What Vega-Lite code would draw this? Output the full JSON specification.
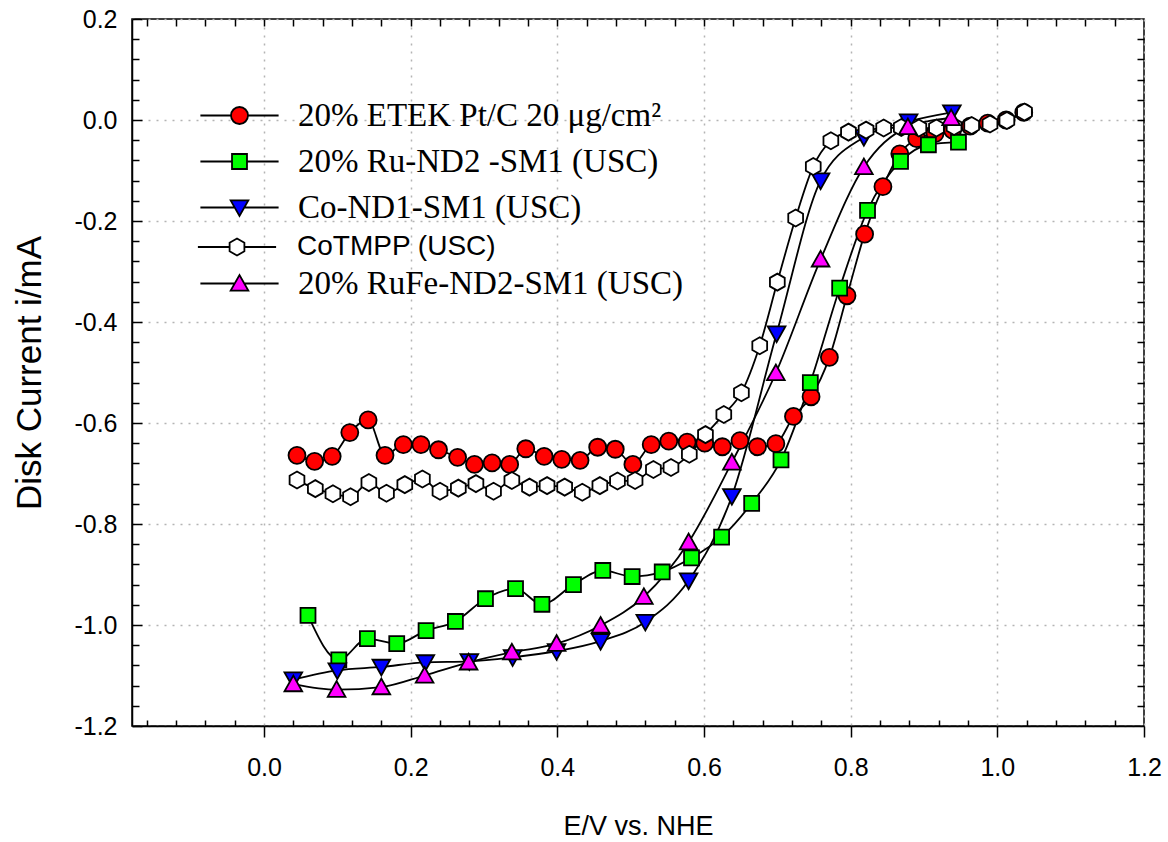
{
  "$schema": "https://vega.github.io/schema/vega-lite/v6.json",
  "width": 1012,
  "height": 707,
  "autosize": {"type": "none"},
  "padding": {"left": 132, "top": 19, "right": 24, "bottom": 116},
  "background": "white",
  "config": {
    "view": {"stroke": "black", "strokeWidth": 1.5},
    "font": "Liberation Sans",
    "axis": {"labelFont": "Liberation Sans", "titleFont": "Liberation Sans", "labelColor": "black", "titleColor": "black", "tickColor": "black", "domainColor": "black"},
    "legend": {"title": null, "orient": "none", "labelColor": "black", "labelLimit": 800, "labelOffset": 42, "symbolSize": 289, "symbolStrokeWidth": 1.8, "symbolStrokeColor": "black"}
  },
  "data": {"values": [
    {"s": "20% ETEK Pt/C 20 μg/cm²", "x": 0.045, "y": -0.664},
    {"s": "20% ETEK Pt/C 20 μg/cm²", "x": 0.069, "y": -0.676},
    {"s": "20% ETEK Pt/C 20 μg/cm²", "x": 0.093, "y": -0.666},
    {"s": "20% ETEK Pt/C 20 μg/cm²", "x": 0.117, "y": -0.619},
    {"s": "20% ETEK Pt/C 20 μg/cm²", "x": 0.142, "y": -0.594},
    {"s": "20% ETEK Pt/C 20 μg/cm²", "x": 0.165, "y": -0.664},
    {"s": "20% ETEK Pt/C 20 μg/cm²", "x": 0.190, "y": -0.643},
    {"s": "20% ETEK Pt/C 20 μg/cm²", "x": 0.214, "y": -0.643},
    {"s": "20% ETEK Pt/C 20 μg/cm²", "x": 0.238, "y": -0.653},
    {"s": "20% ETEK Pt/C 20 μg/cm²", "x": 0.264, "y": -0.668},
    {"s": "20% ETEK Pt/C 20 μg/cm²", "x": 0.287, "y": -0.682},
    {"s": "20% ETEK Pt/C 20 μg/cm²", "x": 0.311, "y": -0.679},
    {"s": "20% ETEK Pt/C 20 μg/cm²", "x": 0.335, "y": -0.682},
    {"s": "20% ETEK Pt/C 20 μg/cm²", "x": 0.357, "y": -0.651},
    {"s": "20% ETEK Pt/C 20 μg/cm²", "x": 0.382, "y": -0.666},
    {"s": "20% ETEK Pt/C 20 μg/cm²", "x": 0.406, "y": -0.672},
    {"s": "20% ETEK Pt/C 20 μg/cm²", "x": 0.431, "y": -0.674},
    {"s": "20% ETEK Pt/C 20 μg/cm²", "x": 0.455, "y": -0.648},
    {"s": "20% ETEK Pt/C 20 μg/cm²", "x": 0.479, "y": -0.652},
    {"s": "20% ETEK Pt/C 20 μg/cm²", "x": 0.503, "y": -0.682},
    {"s": "20% ETEK Pt/C 20 μg/cm²", "x": 0.528, "y": -0.643},
    {"s": "20% ETEK Pt/C 20 μg/cm²", "x": 0.552, "y": -0.636},
    {"s": "20% ETEK Pt/C 20 μg/cm²", "x": 0.577, "y": -0.638},
    {"s": "20% ETEK Pt/C 20 μg/cm²", "x": 0.601, "y": -0.640},
    {"s": "20% ETEK Pt/C 20 μg/cm²", "x": 0.625, "y": -0.647},
    {"s": "20% ETEK Pt/C 20 μg/cm²", "x": 0.649, "y": -0.635},
    {"s": "20% ETEK Pt/C 20 μg/cm²", "x": 0.673, "y": -0.647},
    {"s": "20% ETEK Pt/C 20 μg/cm²", "x": 0.698, "y": -0.641},
    {"s": "20% ETEK Pt/C 20 μg/cm²", "x": 0.722, "y": -0.587},
    {"s": "20% ETEK Pt/C 20 μg/cm²", "x": 0.746, "y": -0.548},
    {"s": "20% ETEK Pt/C 20 μg/cm²", "x": 0.771, "y": -0.470},
    {"s": "20% ETEK Pt/C 20 μg/cm²", "x": 0.795, "y": -0.348},
    {"s": "20% ETEK Pt/C 20 μg/cm²", "x": 0.819, "y": -0.226},
    {"s": "20% ETEK Pt/C 20 μg/cm²", "x": 0.844, "y": -0.132},
    {"s": "20% ETEK Pt/C 20 μg/cm²", "x": 0.867, "y": -0.067},
    {"s": "20% ETEK Pt/C 20 μg/cm²", "x": 0.890, "y": -0.037},
    {"s": "20% ETEK Pt/C 20 μg/cm²", "x": 0.915, "y": -0.027},
    {"s": "20% ETEK Pt/C 20 μg/cm²", "x": 0.939, "y": -0.020},
    {"s": "20% ETEK Pt/C 20 μg/cm²", "x": 0.963, "y": -0.012},
    {"s": "20% ETEK Pt/C 20 μg/cm²", "x": 0.987, "y": -0.006},
    {"s": "20% ETEK Pt/C 20 μg/cm²", "x": 1.012, "y": 0.000},
    {"s": "20% ETEK Pt/C 20 μg/cm²", "x": 1.036, "y": 0.015},
    {"s": "20% Ru-ND2 -SM1 (USC)", "x": 0.060, "y": -0.981},
    {"s": "20% Ru-ND2 -SM1 (USC)", "x": 0.102, "y": -1.069},
    {"s": "20% Ru-ND2 -SM1 (USC)", "x": 0.141, "y": -1.027},
    {"s": "20% Ru-ND2 -SM1 (USC)", "x": 0.181, "y": -1.037},
    {"s": "20% Ru-ND2 -SM1 (USC)", "x": 0.221, "y": -1.011},
    {"s": "20% Ru-ND2 -SM1 (USC)", "x": 0.261, "y": -0.993},
    {"s": "20% Ru-ND2 -SM1 (USC)", "x": 0.302, "y": -0.948},
    {"s": "20% Ru-ND2 -SM1 (USC)", "x": 0.343, "y": -0.928},
    {"s": "20% Ru-ND2 -SM1 (USC)", "x": 0.379, "y": -0.959},
    {"s": "20% Ru-ND2 -SM1 (USC)", "x": 0.422, "y": -0.920},
    {"s": "20% Ru-ND2 -SM1 (USC)", "x": 0.462, "y": -0.892},
    {"s": "20% Ru-ND2 -SM1 (USC)", "x": 0.502, "y": -0.904},
    {"s": "20% Ru-ND2 -SM1 (USC)", "x": 0.543, "y": -0.895},
    {"s": "20% Ru-ND2 -SM1 (USC)", "x": 0.583, "y": -0.867},
    {"s": "20% Ru-ND2 -SM1 (USC)", "x": 0.624, "y": -0.826},
    {"s": "20% Ru-ND2 -SM1 (USC)", "x": 0.665, "y": -0.759},
    {"s": "20% Ru-ND2 -SM1 (USC)", "x": 0.705, "y": -0.673},
    {"s": "20% Ru-ND2 -SM1 (USC)", "x": 0.745, "y": -0.520},
    {"s": "20% Ru-ND2 -SM1 (USC)", "x": 0.785, "y": -0.333},
    {"s": "20% Ru-ND2 -SM1 (USC)", "x": 0.823, "y": -0.179},
    {"s": "20% Ru-ND2 -SM1 (USC)", "x": 0.868, "y": -0.082},
    {"s": "20% Ru-ND2 -SM1 (USC)", "x": 0.906, "y": -0.049},
    {"s": "20% Ru-ND2 -SM1 (USC)", "x": 0.947, "y": -0.044},
    {"s": "Co-ND1-SM1 (USC)", "x": 0.040, "y": -1.108},
    {"s": "Co-ND1-SM1 (USC)", "x": 0.100, "y": -1.090},
    {"s": "Co-ND1-SM1 (USC)", "x": 0.160, "y": -1.083},
    {"s": "Co-ND1-SM1 (USC)", "x": 0.220, "y": -1.074},
    {"s": "Co-ND1-SM1 (USC)", "x": 0.280, "y": -1.072},
    {"s": "Co-ND1-SM1 (USC)", "x": 0.339, "y": -1.064},
    {"s": "Co-ND1-SM1 (USC)", "x": 0.399, "y": -1.052},
    {"s": "Co-ND1-SM1 (USC)", "x": 0.459, "y": -1.032},
    {"s": "Co-ND1-SM1 (USC)", "x": 0.520, "y": -0.994},
    {"s": "Co-ND1-SM1 (USC)", "x": 0.579, "y": -0.912},
    {"s": "Co-ND1-SM1 (USC)", "x": 0.638, "y": -0.745},
    {"s": "Co-ND1-SM1 (USC)", "x": 0.699, "y": -0.423},
    {"s": "Co-ND1-SM1 (USC)", "x": 0.759, "y": -0.120},
    {"s": "Co-ND1-SM1 (USC)", "x": 0.818, "y": -0.034},
    {"s": "Co-ND1-SM1 (USC)", "x": 0.879, "y": -0.003},
    {"s": "Co-ND1-SM1 (USC)", "x": 0.938, "y": 0.015},
    {"s": "CoTMPP (USC)", "x": 0.045, "y": -0.713},
    {"s": "CoTMPP (USC)", "x": 0.070, "y": -0.730},
    {"s": "CoTMPP (USC)", "x": 0.094, "y": -0.740},
    {"s": "CoTMPP (USC)", "x": 0.118, "y": -0.746},
    {"s": "CoTMPP (USC)", "x": 0.143, "y": -0.718},
    {"s": "CoTMPP (USC)", "x": 0.167, "y": -0.739},
    {"s": "CoTMPP (USC)", "x": 0.192, "y": -0.722},
    {"s": "CoTMPP (USC)", "x": 0.216, "y": -0.711},
    {"s": "CoTMPP (USC)", "x": 0.240, "y": -0.735},
    {"s": "CoTMPP (USC)", "x": 0.265, "y": -0.729},
    {"s": "CoTMPP (USC)", "x": 0.289, "y": -0.720},
    {"s": "CoTMPP (USC)", "x": 0.313, "y": -0.735},
    {"s": "CoTMPP (USC)", "x": 0.338, "y": -0.714},
    {"s": "CoTMPP (USC)", "x": 0.362, "y": -0.727},
    {"s": "CoTMPP (USC)", "x": 0.386, "y": -0.724},
    {"s": "CoTMPP (USC)", "x": 0.410, "y": -0.727},
    {"s": "CoTMPP (USC)", "x": 0.434, "y": -0.737},
    {"s": "CoTMPP (USC)", "x": 0.458, "y": -0.724},
    {"s": "CoTMPP (USC)", "x": 0.482, "y": -0.715},
    {"s": "CoTMPP (USC)", "x": 0.506, "y": -0.714},
    {"s": "CoTMPP (USC)", "x": 0.531, "y": -0.692},
    {"s": "CoTMPP (USC)", "x": 0.555, "y": -0.688},
    {"s": "CoTMPP (USC)", "x": 0.580, "y": -0.662},
    {"s": "CoTMPP (USC)", "x": 0.602, "y": -0.623},
    {"s": "CoTMPP (USC)", "x": 0.627, "y": -0.583},
    {"s": "CoTMPP (USC)", "x": 0.651, "y": -0.540},
    {"s": "CoTMPP (USC)", "x": 0.676, "y": -0.447},
    {"s": "CoTMPP (USC)", "x": 0.700, "y": -0.321},
    {"s": "CoTMPP (USC)", "x": 0.725, "y": -0.194},
    {"s": "CoTMPP (USC)", "x": 0.749, "y": -0.092},
    {"s": "CoTMPP (USC)", "x": 0.773, "y": -0.041},
    {"s": "CoTMPP (USC)", "x": 0.797, "y": -0.024},
    {"s": "CoTMPP (USC)", "x": 0.821, "y": -0.020},
    {"s": "CoTMPP (USC)", "x": 0.845, "y": -0.016},
    {"s": "CoTMPP (USC)", "x": 0.869, "y": -0.015},
    {"s": "CoTMPP (USC)", "x": 0.893, "y": -0.016},
    {"s": "CoTMPP (USC)", "x": 0.917, "y": -0.016},
    {"s": "CoTMPP (USC)", "x": 0.941, "y": -0.013},
    {"s": "CoTMPP (USC)", "x": 0.965, "y": -0.011},
    {"s": "CoTMPP (USC)", "x": 0.990, "y": -0.008},
    {"s": "CoTMPP (USC)", "x": 1.013, "y": -0.001},
    {"s": "CoTMPP (USC)", "x": 1.037, "y": 0.016},
    {"s": "20% RuFe-ND2-SM1 (USC)", "x": 0.040, "y": -1.117},
    {"s": "20% RuFe-ND2-SM1 (USC)", "x": 0.099, "y": -1.128},
    {"s": "20% RuFe-ND2-SM1 (USC)", "x": 0.160, "y": -1.123},
    {"s": "20% RuFe-ND2-SM1 (USC)", "x": 0.219, "y": -1.100},
    {"s": "20% RuFe-ND2-SM1 (USC)", "x": 0.279, "y": -1.074},
    {"s": "20% RuFe-ND2-SM1 (USC)", "x": 0.338, "y": -1.054},
    {"s": "20% RuFe-ND2-SM1 (USC)", "x": 0.399, "y": -1.037},
    {"s": "20% RuFe-ND2-SM1 (USC)", "x": 0.459, "y": -1.001},
    {"s": "20% RuFe-ND2-SM1 (USC)", "x": 0.518, "y": -0.944},
    {"s": "20% RuFe-ND2-SM1 (USC)", "x": 0.579, "y": -0.836},
    {"s": "20% RuFe-ND2-SM1 (USC)", "x": 0.638, "y": -0.678},
    {"s": "20% RuFe-ND2-SM1 (USC)", "x": 0.698, "y": -0.501},
    {"s": "20% RuFe-ND2-SM1 (USC)", "x": 0.759, "y": -0.276},
    {"s": "20% RuFe-ND2-SM1 (USC)", "x": 0.818, "y": -0.093},
    {"s": "20% RuFe-ND2-SM1 (USC)", "x": 0.878, "y": -0.014},
    {"s": "20% RuFe-ND2-SM1 (USC)", "x": 0.937, "y": 0.004}
  ]},
  "layer": [
    {
      "mark": {"type": "line", "interpolate": "monotone", "color": "black", "strokeWidth": 1.8},
      "encoding": {
        "x": {"field": "x", "type": "quantitative",
          "scale": {"domain": [-0.18, 1.2], "nice": false, "zero": false},
          "axis": {"orient": "bottom", "values": [0, 0.2, 0.4, 0.6, 0.8, 1, 1.2], "labelExpr": "replace(format(datum.value, '.1f'), '\u2212', '-')",
            "title": "E/V vs. NHE", "grid": true, "gridColor": "#b4b4b4", "gridDash": [2, 6], "gridWidth": 1.5,
            "ticks": true, "tickSize": 11, "tickWidth": 1.5, "domain": true, "domainWidth": 1.5,
            "labelFontSize": 25, "labelPadding": 18, "labelFlush": false, "labelOverlap": false,
            "titleFontSize": 27, "titleFontWeight": "normal", "titlePadding": 33}},
        "y": {"field": "y", "type": "quantitative",
          "scale": {"domain": [-1.2, 0.2], "nice": false, "zero": false},
          "axis": {"orient": "left", "values": [0.2, 0, -0.2, -0.4, -0.6, -0.8, -1, -1.2], "labelExpr": "replace(format(datum.value, '.1f'), '\u2212', '-')",
            "title": "Disk Current i/mA", "grid": true, "gridColor": "#b4b4b4", "gridDash": [2, 6], "gridWidth": 1.5,
            "ticks": false, "domain": true, "domainWidth": 1.5,
            "labelFontSize": 25, "labelPadding": 15, "labelFlush": false, "labelOverlap": false,
            "titleFontSize": 35, "titleFontWeight": "normal", "titlePadding": 26}},
        "detail": {"field": "s", "type": "nominal"}
      }
    },
    {
      "mark": {"type": "point", "filled": true, "stroke": "black", "strokeWidth": 1.8, "size": 289, "opacity": 1},
      "encoding": {
        "x": {"field": "x", "type": "quantitative",
          "scale": {"domain": [-0.18, 1.2], "nice": false, "zero": false},
          "axis": {"orient": "bottom", "values": [-0.16, -0.12, -0.08, -0.04, 0.04, 0.08, 0.12, 0.16, 0.24, 0.28, 0.32, 0.36, 0.44, 0.48, 0.52, 0.56, 0.64, 0.68, 0.72, 0.76, 0.84, 0.88, 0.92, 0.96, 1.04, 1.08, 1.12, 1.16],
            "labels": false, "title": null, "grid": false, "domain": false, "ticks": true, "tickSize": -6, "tickWidth": 1.5}},
        "y": {"field": "y", "type": "quantitative",
          "scale": {"domain": [-1.2, 0.2], "nice": false, "zero": false},
          "axis": {"orient": "left", "values": [0.16, 0.12, 0.08, 0.04, -0.04, -0.08, -0.12, -0.16, -0.24, -0.28, -0.32, -0.36, -0.44, -0.48, -0.52, -0.56, -0.64, -0.68, -0.72, -0.76, -0.84, -0.88, -0.92, -0.96, -1.04, -1.08, -1.12, -1.16],
            "labels": false, "title": null, "grid": false, "domain": false, "ticks": true, "tickSize": -7, "tickWidth": 1.5}},
        "color": {"field": "s", "type": "nominal", "legend": null,
          "scale": {"domain": ["20% ETEK Pt/C 20 μg/cm²", "20% Ru-ND2 -SM1 (USC)", "Co-ND1-SM1 (USC)", "CoTMPP (USC)", "20% RuFe-ND2-SM1 (USC)"],
            "range": ["#ff0000", "#00ff00", "#0000ff", "#ffffff", "#ff00ff"]}},
        "shape": {"field": "s", "type": "nominal", "legend": null,
          "scale": {"domain": ["20% ETEK Pt/C 20 μg/cm²", "20% Ru-ND2 -SM1 (USC)", "Co-ND1-SM1 (USC)", "CoTMPP (USC)", "20% RuFe-ND2-SM1 (USC)"],
            "range": ["M1,0A1,1,0,1,1,-1,0A1,1,0,1,1,1,0Z", "M-0.88,-0.88H0.88V0.88H-0.88Z", "M-1.04,-0.84H1.04L0,1Z", "M0,-1L0.87,-0.5L0.87,0.5L0,1L-0.87,0.5L-0.87,-0.5Z", "M-1.04,0.84H1.04L0,-1Z"]}}
      }
    },
    {
      "transform": [{"filter": "false"}],
      "mark": {"type": "point", "filled": true, "stroke": "black", "strokeWidth": 1.8, "size": 289, "opacity": 1},
      "encoding": {
        "x": {"field": "x", "type": "quantitative",
          "scale": {"domain": [-0.18, 1.2], "nice": false, "zero": false},
          "axis": {"orient": "top", "values": [-0.16, -0.12, -0.08, -0.04, 0, 0.04, 0.08, 0.12, 0.16, 0.2, 0.24, 0.28, 0.32, 0.36, 0.4, 0.44, 0.48, 0.52, 0.56, 0.6, 0.64, 0.68, 0.72, 0.76, 0.8, 0.84, 0.88, 0.92, 0.96, 1, 1.04, 1.08, 1.12, 1.16],
            "labels": false, "title": null, "grid": false, "domain": false, "ticks": true, "tickSize": -7, "tickWidth": 1.5}},
        "y": {"field": "y", "type": "quantitative",
          "scale": {"domain": [-1.2, 0.2], "nice": false, "zero": false},
          "axis": {"orient": "right", "values": [0.16, 0.12, 0.08, 0.04, 0, -0.04, -0.08, -0.12, -0.16, -0.2, -0.24, -0.28, -0.32, -0.36, -0.4, -0.44, -0.48, -0.52, -0.56, -0.6, -0.64, -0.68, -0.72, -0.76, -0.8, -0.84, -0.88, -0.92, -0.96, -1, -1.04, -1.08, -1.12, -1.16],
            "labels": false, "title": null, "grid": false, "domain": false, "ticks": true, "tickSize": -7, "tickWidth": 1.5}},
        "color": {"field": "s", "type": "nominal",
          "scale": {"domain": ["20% ETEK Pt/C 20 μg/cm²", "20% Ru-ND2 -SM1 (USC)", "Co-ND1-SM1 (USC)"],
            "range": ["#ff0000", "#00ff00", "#0000ff"]},
          "legend": {"legendX": 91, "legendY": 80, "labelFont": "Liberation Serif", "labelFontSize": 33, "rowPadding": 12}},
        "shape": {"field": "s", "type": "nominal",
          "scale": {"domain": ["20% ETEK Pt/C 20 μg/cm²", "20% Ru-ND2 -SM1 (USC)", "Co-ND1-SM1 (USC)"],
            "range": ["M-4.6,0H-1M1,0H4.6M1,0A1,1,0,1,1,-1,0A1,1,0,1,1,1,0Z", "M-4.6,0H-0.88M0.88,0H4.6M-0.88,-0.88H0.88V0.88H-0.88Z", "M-4.6,0H-0.57M0.57,0H4.6M-1.04,-0.84H1.04L0,1Z"]},
          "legend": {"legendX": 91, "legendY": 80, "labelFont": "Liberation Serif", "labelFontSize": 33, "rowPadding": 12}}
      }
    },
    {
      "transform": [{"filter": "false"}],
      "mark": {"type": "point", "filled": true, "stroke": "black", "strokeWidth": 1.8, "size": 289, "opacity": 1},
      "encoding": {
        "color": {"field": "s", "type": "nominal",
          "scale": {"domain": ["CoTMPP (USC)"], "range": ["#ffffff"]},
          "legend": {"legendX": 91, "legendY": 214, "labelFont": "Liberation Sans", "labelFontSize": 28, "labelOffset": 46}},
        "shape": {"field": "s", "type": "nominal",
          "scale": {"domain": ["CoTMPP (USC)"],
            "range": ["M-4.6,0H-0.87M0.87,0H4.6M0,-1L0.87,-0.5L0.87,0.5L0,1L-0.87,0.5L-0.87,-0.5Z"]},
          "legend": {"legendX": 91, "legendY": 214, "labelFont": "Liberation Sans", "labelFontSize": 28, "labelOffset": 46}}
      }
    },
    {
      "transform": [{"filter": "false"}],
      "mark": {"type": "point", "filled": true, "stroke": "black", "strokeWidth": 1.8, "size": 289, "opacity": 1},
      "encoding": {
        "color": {"field": "s", "type": "nominal",
          "scale": {"domain": ["20% RuFe-ND2-SM1 (USC)"], "range": ["#ff00ff"]},
          "legend": {"legendX": 91, "legendY": 248, "labelFont": "Liberation Serif", "labelFontSize": 33}},
        "shape": {"field": "s", "type": "nominal",
          "scale": {"domain": ["20% RuFe-ND2-SM1 (USC)"],
            "range": ["M-4.6,0H-0.57M0.57,0H4.6M-1.04,0.84H1.04L0,-1Z"]},
          "legend": {"legendX": 91, "legendY": 248, "labelFont": "Liberation Serif", "labelFontSize": 33}}
      }
    },
    {
      "transform": [{"filter": "false"}],
      "mark": {"type": "point", "opacity": 0},
      "encoding": {
        "x": {"field": "x", "type": "quantitative",
          "scale": {"domain": [-0.18, 1.2], "nice": false, "zero": false}, "axis": null},
        "y": {"field": "y", "type": "quantitative",
          "scale": {"domain": [-1.2, 0.2], "nice": false, "zero": false},
          "axis": {"orient": "left", "values": [0.2, 0, -0.2, -0.4, -0.6, -0.8, -1, -1.2],
            "labels": false, "title": null, "grid": false, "domain": false, "ticks": true, "tickSize": -10, "tickWidth": 1.5}}
      }
    }
  ],
  "resolve": {
    "scale": {"color": "independent", "shape": "independent"},
    "axis": {"x": "independent", "y": "independent"}
  }
}
